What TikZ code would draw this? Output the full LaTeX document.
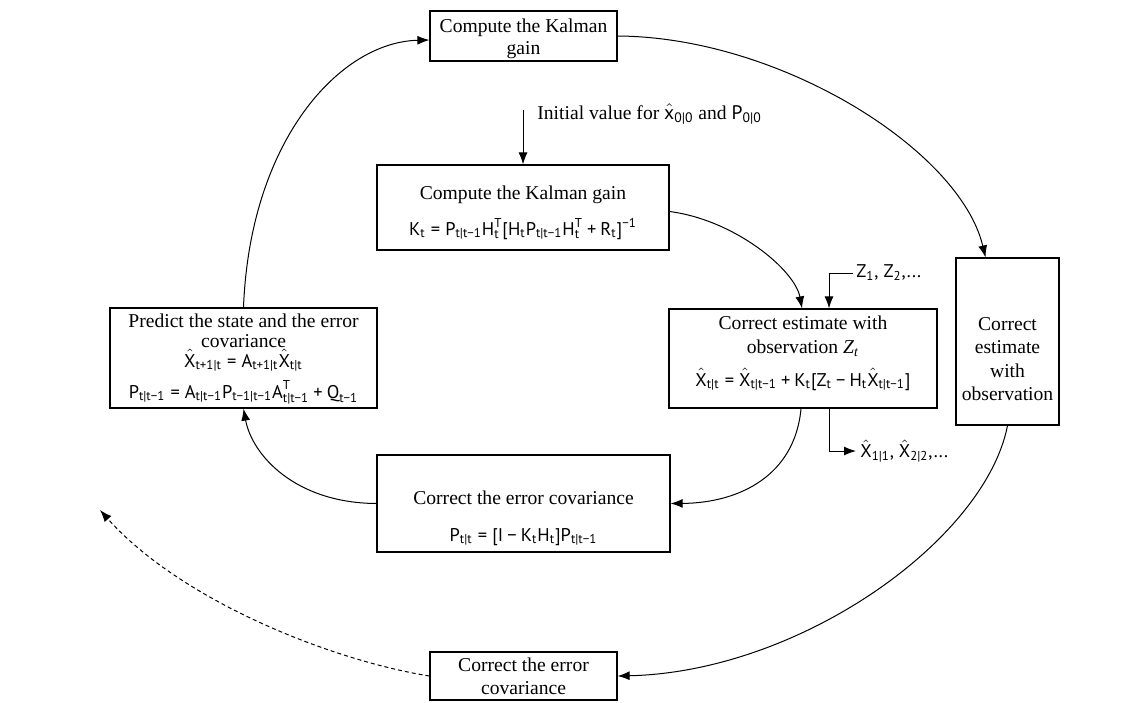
\documentclass[tikz,border=0pt]{standalone}
\usepackage{fontspec}
\usepackage{amsmath}
\setmainfont{Liberation Serif}
\newfontfamily\ff{PT Sans}
\usetikzlibrary{arrows.meta}
\newcommand\T[1]{\text{\ff #1}}
\newcommand\HX{\hat{\T{X}}}
\newcommand\EQ{\mathrel{\T{=}}}
\newcommand\PL{\mathbin{\T{+}}}
\newcommand\MI{\mathbin{\T{−}}}
\begin{document}
\begin{tikzpicture}[x=0.5pt,y=-0.5pt,
  box/.style={draw, line width=0.6pt, inner sep=0pt},
  txt/.style={inner sep=0pt, anchor=base, font=\fontsize{9.8}{12}\selectfont},
  fml/.style={inner sep=0pt, anchor=base, font=\fontsize{9.2}{11}\selectfont},
  arr/.style={-{Latex[length=6pt,width=4.5pt]}, line width=0.5pt},
  darr/.style={arr, dash pattern=on 2pt off 1.5pt}]
\useasboundingbox (0,0) rectangle (1143,702);
% boxes
\node[box, minimum width=93.5pt, minimum height=25pt] (kg2) at (523.5,36) {};
\node[box, minimum width=146pt, minimum height=42.5pt] (kg) at (523,207.5) {};
\node[box, minimum width=134pt, minimum height=49.5pt] (ce) at (803,358.5) {};
\node[box, minimum width=133.5pt, minimum height=50pt] (pr) at (243.5,358) {};
\node[box, minimum width=146.5pt, minimum height=48.5pt] (ec) at (523.5,503.5) {};
\node[box, minimum width=51.5pt, minimum height=83.5pt] (rb) at (1007.5,341.5) {};
\node[box, minimum width=93.5pt, minimum height=24pt] (bb) at (523.5,676) {};
% texts
\node[txt] (kg2a) at (523.5,32) {Compute the Kalman};
\node[txt] (kg2b) at (523.5,54) {gain};
\node[txt, anchor=base west] (init) at (537,119) {Initial value for \(\hat{\T{x}}_{\T{0|0}}\) and \(\T{P}_{\T{0|0}}\)};
\node[txt] (kga) at (523,199) {Compute the Kalman gain};
\node[fml] (kgb) at (523,235) {$\T{K}_{\T{t}}\EQ\T{P}_{\T{t|t−1}}\T{H}_{\T{t}}^{\T{T}}\T{[}\T{H}_{\T{t}}\T{P}_{\T{t|t−1}}\T{H}_{\T{t}}^{\T{T}}\PL\T{R}_{\T{t}}\T{]}^{\T{−1}}$};
\node[txt] (cea) at (803,329) {Correct estimate with};
\node[txt] (ceb) at (803,353) {observation \textit{Z}\textsubscript{\textit{t}}};
\node[fml] (cec) at (803,386) {$\HX_{\T{t|t}}\EQ\HX_{\T{t|t−1}}\PL\T{K}_{\T{t}}\T{[}\T{Z}_{\T{t}}\MI\T{H}_{\T{t}}\HX_{\T{t|t−1}}\T{]}$};
\node[txt] (pra) at (243.5,327) {Predict the state and the error};
\node[txt] (prb) at (243.5,347) {covariance};
\node[fml] (prc) at (243.5,367) {$\HX_{\T{t+1|t}}\EQ\T{A}_{\T{t+1|t}}\HX_{\T{t|t}}$};
\node[fml] (prd) at (243.5,398) {$\T{P}_{\T{t|t−1}}\EQ\T{A}_{\T{t|t−1}}\T{P}_{\T{t−1|t−1}}\T{A}_{\T{t|t−1}}^{\T{T}}\PL\T{Q}_{\T{t−1}}$};
\node[txt] (eca) at (523.5,504) {Correct the error covariance};
\node[fml] (ecb) at (523.5,541) {$\T{P}_{\T{t|t}}\EQ\T{[}\T{I}\MI\T{K}_{\T{t}}\T{H}_{\T{t}}\T{]}\T{P}_{\T{t|t−1}}$};
\node[txt, align=center, anchor=center, font=\fontsize{9.8}{11.8}\selectfont] (rbt) at (1007.5,359) {Correct\\estimate\\with\\observation};
\node[txt] (bba) at (523.5,671) {Correct the error};
\node[txt] (bbb) at (523.5,694) {covariance};
% inputs / outputs
\coordinate (ini) at (523,110);
\draw[arr] (ini) -- (kg.north -| ini);
\coordinate (zin) at (853,273);
\node[fml, anchor=west] (zt) at (856,273) {$\T{Z}_{\T{1}}\T{, }\T{Z}_{\T{2}}\T{,...}$};
\draw[arr] (zin) -| ([xshift=13pt]ce.north);
\coordinate (zout) at (856,451);
\node[fml, anchor=west] (xo) at (860,451) {$\HX_{\T{1|1}}\T{, }\HX_{\T{2|2}}\T{,...}$};
\draw[arr] ([xshift=13pt]ce.south) |- (zout);
% loop connectors
\draw[arr] (pr.north) .. controls (250,140) and (340,42) .. ([yshift=-2pt]kg2.west);
\draw[arr] (kg2.east) .. controls (780,37) and (960,150) .. ([xshift=-11pt]rb.north);
\draw[arr] ([yshift=-2pt]kg.east) .. controls (735,220) and (795,270) .. ([xshift=-0.5pt]ce.north);
\draw[arr] ([xshift=-1pt]ce.south) .. controls (795,475) and (740,503) .. (ec.east);
\draw[arr] (ec.west) .. controls (295,503) and (252,455) .. (pr.south);
\draw[arr] (rb.south) .. controls (985,540) and (800,672) .. (bb.east);
\coordinate (dtip) at (100,510);
\draw[darr] (bb.west) .. controls (330,660) and (180,600) .. (dtip);
\end{tikzpicture}
\end{document}
